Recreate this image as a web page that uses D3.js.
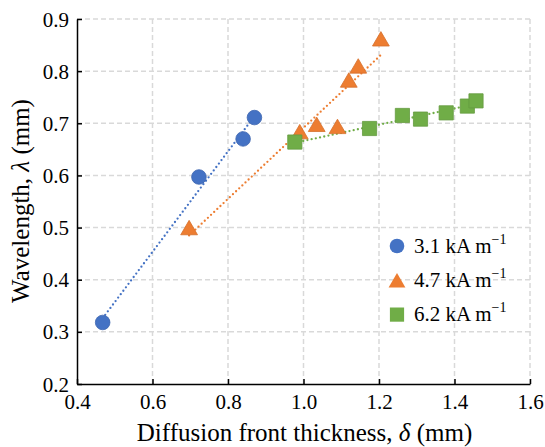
<!DOCTYPE html>
<html>
<head>
<meta charset="utf-8">
<script src="https://cdn.jsdelivr.net/npm/d3@7"></script>
<style>
  html, body { margin: 0; padding: 0; background: #fff; }
</style>
</head>
<body>
<div id="chart"></div>
<script>
const width  = 545;
const height = 447;
const margin = { top: 19, right: 15, bottom: 63, left: 77 };
const serifFont = "'Liberation Serif', serif";

// Values
const seriesNames = ["3.1 kA m", "4.7 kA m", "6.2 kA m"];
const seriesColours = ["#4472C4", "#ED7D31", "#70AD47"];
const seriesShapes = ["circle", "triangle", "square"];

const thickness31  = [0.468, 0.723, 0.840, 0.870];
const wavelength31 = [0.318, 0.597, 0.670, 0.711];

const thickness47  = [0.697, 0.990, 1.035, 1.090, 1.120, 1.145, 1.205];
const wavelength47 = [0.500, 0.684, 0.698, 0.694, 0.783, 0.810, 0.862];

const thickness62  = [0.977, 1.175, 1.262, 1.310, 1.378, 1.434, 1.457];
const wavelength62 = [0.664, 0.690, 0.715, 0.708, 0.720, 0.733, 0.743];

const xTicks = [0.4, 0.6, 0.8, 1.0, 1.2, 1.4, 1.6];
const yTicks = [0.2, 0.3, 0.4, 0.5, 0.6, 0.7, 0.8, 0.9];

const series = [
  { xs: thickness31, ys: wavelength31 },
  { xs: thickness47, ys: wavelength47 },
  { xs: thickness62, ys: wavelength62 }
].map((s, i) => ({
  name: seriesNames[i], colour: seriesColours[i], shape: seriesShapes[i],
  points: s.xs.map((v, j) => ({ x: v, y: s.ys[j] }))
}));

const xScale = d3.scaleLinear().domain([0.4, 1.6]).range([margin.left, width - margin.right]);
const yScale = d3.scaleLinear().domain([0.2, 0.9]).range([height - margin.bottom, margin.top]);

const svg = d3.select("#chart").append("svg")
    .attr("width", width)
    .attr("height", height)
    .attr("font-family", "Liberation Serif");

// Dashed grid
const grid = svg.append("g")
    .attr("stroke", "#d9d9d9")
    .attr("stroke-width", 1.5)
    .attr("stroke-dasharray", "5,3");

grid.selectAll(".vgrid")
  .data(xTicks.slice(1)).enter()
    .append("line")
      .attr("class", "vgrid")
      .attr("x1", d => xScale(d)).attr("x2", d => xScale(d))
      .attr("y1", yScale(0.2)).attr("y2", yScale(0.9));

grid.selectAll(".hgrid")
  .data(yTicks.slice(1)).enter()
    .append("line")
      .attr("class", "hgrid")
      .attr("y1", d => yScale(d)).attr("y2", d => yScale(d))
      .attr("x1", xScale(0.4)).attr("x2", xScale(1.6));

// Axes, ticks pointing inward
const xAxis = svg.append("g")
    .attr("transform", "translate(0," + yScale(0.2) + ")")
    .call(d3.axisBottom(xScale).tickValues(xTicks).tickFormat(d3.format(".1f"))
      .tickSizeInner(-5).tickSizeOuter(0).tickPadding(10));

const yAxis = svg.append("g")
    .attr("transform", "translate(" + xScale(0.4) + ",0)")
    .call(d3.axisLeft(yScale).tickValues(yTicks).tickFormat(d3.format(".1f"))
      .tickSizeInner(-5).tickSizeOuter(0).tickPadding(8));

[xAxis, yAxis].forEach(a => {
  a.attr("font-family", "Liberation Serif").attr("font-size", 21);
  a.select(".domain").attr("stroke", "#000").attr("stroke-width", 1.5);
  a.selectAll(".tick line").attr("stroke", "#000").attr("stroke-width", 1.5);
  a.selectAll(".tick text")
      .attr("fill", "#000")
      .attr("font-family", "Liberation Serif")
      .attr("font-size", 21)
      .style("font-family", serifFont)
      .style("font-size", "21px");
});
yAxis.selectAll(".tick text").attr("dy", "0.34em");

// Axis titles
const xTitle = svg.append("text")
    .attr("x", (xScale(0.4) + xScale(1.6)) / 2 + 1)
    .attr("y", 441)
    .attr("text-anchor", "middle")
    .style("font-family", serifFont)
    .style("font-size", "25px");
xTitle.append("tspan").text("Diffusion front thickness, ");
xTitle.append("tspan").style("font-style", "italic").text("δ");
xTitle.append("tspan").text(" (mm)");

const yTitle = svg.append("text")
    .attr("transform", "translate(29,201) rotate(-90)")
    .attr("text-anchor", "middle")
    .style("font-family", serifFont)
    .style("font-size", "25px");
yTitle.append("tspan").text("Wavelength, ");
yTitle.append("tspan").style("font-style", "italic").text("λ");
yTitle.append("tspan").text(" (mm)");

// Linear trend lines (least squares), dotted
function linearFit(points) {
  const mx = d3.mean(points, d => d.x);
  const my = d3.mean(points, d => d.y);
  const sxy = d3.sum(points, d => (d.x - mx) * (d.y - my));
  const sxx = d3.sum(points, d => (d.x - mx) * (d.x - mx));
  const slope = sxy / sxx;
  return v => my + slope * (v - mx);
}

series.forEach(s => {
  const fit = linearFit(s.points);
  const ext = d3.extent(s.points, d => d.x);
  svg.append("line")
      .attr("x1", xScale(ext[0])).attr("y1", yScale(fit(ext[0])))
      .attr("x2", xScale(ext[1])).attr("y2", yScale(fit(ext[1])))
      .attr("stroke", s.colour)
      .attr("stroke-width", 2.3)
      .attr("stroke-linecap", "round")
      .attr("stroke-dasharray", "0,4.3");
});

// Marker shapes, centred on their bounding box
function markerPath(shape) {
  if (shape === "circle") {
    const r = 7.3;
    return "M" + (-r) + ",0A" + r + "," + r + " 0 1,0 " + r + ",0A" + r + "," + r + " 0 1,0 " + (-r) + ",0Z";
  }
  if (shape === "triangle") {
    const w = 8.4, h = 7.2;
    return "M0," + (-h) + "L" + w + "," + h + "L" + (-w) + "," + h + "Z";
  }
  const a = 7.1;
  return "M" + (-a) + "," + (-a) + "H" + a + "V" + a + "H" + (-a) + "Z";
}

series.forEach(s => {
  svg.append("g").selectAll("path")
    .data(s.points).enter()
      .append("path")
        .attr("transform", d => "translate(" + xScale(d.x) + "," + yScale(d.y) + ")")
        .attr("d", markerPath(s.shape))
        .attr("fill", s.colour)
        .attr("stroke", d3.color(s.colour).darker(0.3))
        .attr("stroke-width", 0.8);
});

// Legend (transparent, grid shows through)
const legend = svg.append("g")
    .attr("transform", "translate(397,246)")
    .attr("font-family", "Liberation Serif");
series.forEach((s, i) => {
  const row = legend.append("g").attr("transform", "translate(0," + (i * 34.3) + ")");
  row.append("path")
      .attr("d", markerPath(s.shape))
      .attr("fill", s.colour);
  const t = row.append("text")
      .attr("x", 17)
      .attr("y", 6.5)
      .attr("font-family", "Liberation Serif")
      .style("font-family", serifFont)
      .style("font-size", "21px");
  t.append("tspan").text(s.name);
  t.append("tspan")
      .attr("dy", -9)
      .style("font-size", "14px")
      .text("−1");
});
</script>
</body>
</html>
